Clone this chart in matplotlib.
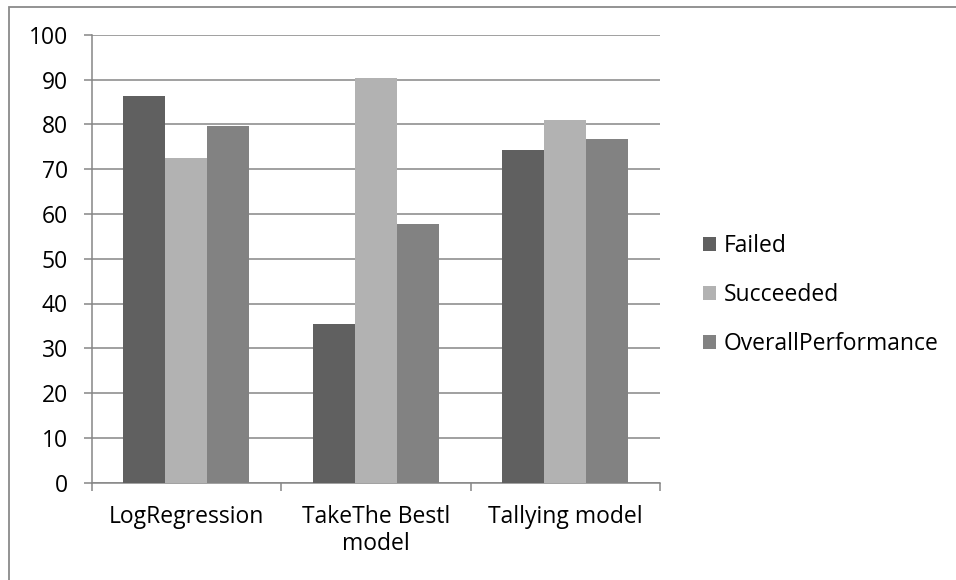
import matplotlib
matplotlib.use("Agg")
import matplotlib.pyplot as plt
import numpy as np
from matplotlib.patches import Rectangle

categories = ["LogRegression", "TakeThe Bestl\nmodel", "Tallying model"]
series_names = ["Failed", "Succeeded", "OverallPerformance"]
failed = [86.4, 35.4, 74.2]
succeeded = [72.5, 90.4, 80.9]
overall = [79.6, 57.8, 76.8]
yticks = [0, 10, 20, 30, 40, 50, 60, 70, 80, 90, 100]

colors = ["#606060", "#b2b2b2", "#828282"]
grid_color = "#868686"

plt.rcParams["font.family"] = ["Open Sans", "DejaVu Sans"]
FS = 16.5

W, H = 956, 580
fig = plt.figure(figsize=(W / 100, H / 100), dpi=100)
ax = fig.add_axes([91.5 / W, 1 - 482.5 / H, (660 - 91.5) / W, (482.5 - 35) / H])

# outer chart frame
fig.patches.append(Rectangle((9 / W, -0.1), 1.2, 1 - 6.5 / H + 0.1,
                             transform=fig.transFigure, fill=False,
                             edgecolor="#8a8a8a", linewidth=1.3, zorder=0))

x = np.arange(len(categories))
bw = 1 / 4.5
for i, (vals, name) in enumerate(zip([failed, succeeded, overall], series_names)):
    ax.bar(x + (i - 1) * bw, vals, width=bw, color=colors[i], label=name,
           zorder=3, linewidth=0)

ax.set_xlim(-0.5, len(categories) - 0.5)
ax.set_ylim(0, 100)
ax.set_yticks(yticks)
ax.set_yticklabels([str(v) for v in yticks])
ax.set_xticks(x)
ax.set_xticklabels(categories, linespacing=1.2)
ax.set_xticks(np.arange(len(categories) + 1) - 0.5, minor=True)

ax.grid(axis="y", color=grid_color, linewidth=1.1, zorder=0)
for s in ["top", "right"]:
    ax.spines[s].set_visible(False)
for s in ["left", "bottom"]:
    ax.spines[s].set_color(grid_color)
    ax.spines[s].set_linewidth(1.1)

ax.tick_params(axis="y", length=6, width=1.1, color=grid_color, pad=11,
               labelsize=FS, labelcolor="black")
ax.tick_params(axis="x", which="major", length=0, pad=16, labelsize=FS)
ax.tick_params(axis="x", which="minor", length=6, width=1.1, color=grid_color)

leg = ax.legend(loc="center left", bbox_to_anchor=(703 / W, 1 - 295 / H),
                bbox_transform=fig.transFigure, frameon=False, fontsize=FS,
                handlelength=0.55, handleheight=0.55, handletextpad=0.35,
                labelspacing=1.1, borderaxespad=0, borderpad=0)

fig.savefig("out.png", dpi=100)
